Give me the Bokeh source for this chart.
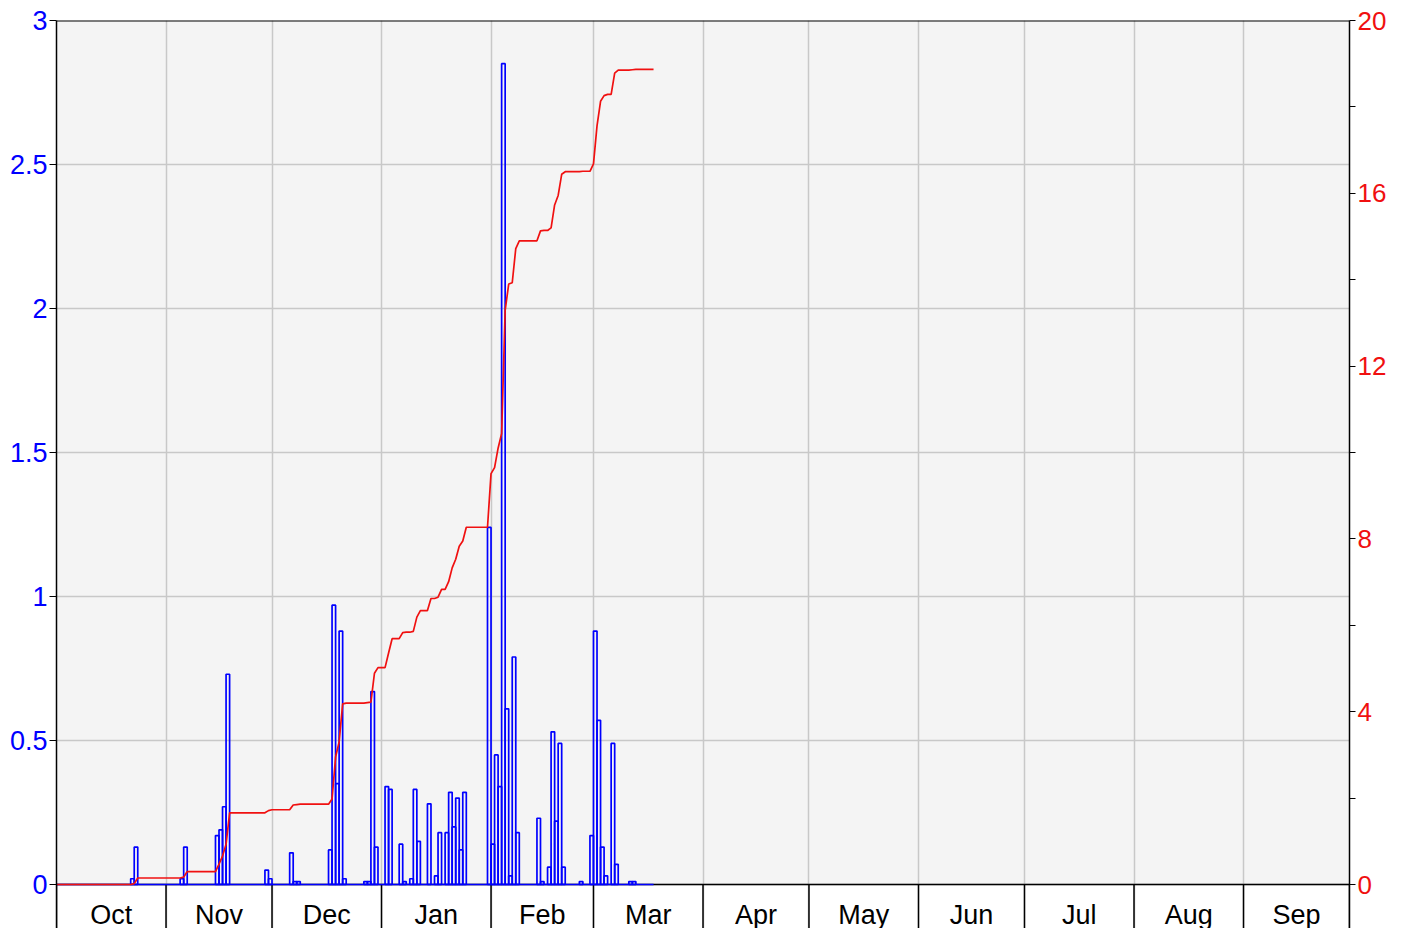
import numpy as np
import pandas as pd
from bokeh.plotting import figure
from bokeh.models import Range1d, LinearAxis, FixedTicker, Grid, Span, BoxAnnotation
from bokeh.core.properties import value
from bokeh.embed import file_html
from bokeh.resources import INLINE

# ---------------- data ----------------
months = ["Oct", "Nov", "Dec", "Jan", "Feb", "Mar",
          "Apr", "May", "Jun", "Jul", "Aug", "Sep"]
wy_start = "2023-10-01"
wy_end = "2024-09-30"
last_obs = "2024-03-17"

rain_dates = [
    "2023-10-22", "2023-10-23",
    "2023-11-05", "2023-11-06", "2023-11-15", "2023-11-16", "2023-11-17", "2023-11-18",
    "2023-11-29", "2023-11-30",
    "2023-12-06", "2023-12-07", "2023-12-08",
    "2023-12-17", "2023-12-18", "2023-12-19", "2023-12-20", "2023-12-21",
    "2023-12-27", "2023-12-28", "2023-12-29", "2023-12-30",
    "2024-01-02", "2024-01-03", "2024-01-06", "2024-01-07", "2024-01-09", "2024-01-10",
    "2024-01-11", "2024-01-14", "2024-01-16", "2024-01-17", "2024-01-19", "2024-01-20",
    "2024-01-21", "2024-01-22", "2024-01-23", "2024-01-24", "2024-01-31",
    "2024-02-01", "2024-02-02", "2024-02-03", "2024-02-04", "2024-02-05", "2024-02-06",
    "2024-02-07", "2024-02-08", "2024-02-14", "2024-02-15", "2024-02-17", "2024-02-18",
    "2024-02-19", "2024-02-20", "2024-02-21", "2024-02-26", "2024-02-29",
    "2024-03-01", "2024-03-02", "2024-03-03", "2024-03-04", "2024-03-06", "2024-03-07",
    "2024-03-11", "2024-03-12",
]
rain_in = [
    0.02, 0.13,
    0.02, 0.13, 0.17, 0.19, 0.27, 0.73,
    0.05, 0.02,
    0.11, 0.01, 0.01,
    0.12, 0.97, 0.35, 0.88, 0.02,
    0.01, 0.01, 0.67, 0.13,
    0.34, 0.33, 0.14, 0.01, 0.02, 0.33,
    0.15, 0.28, 0.03, 0.18, 0.18, 0.32,
    0.20, 0.30, 0.12, 0.32, 1.24,
    0.14, 0.45, 0.34, 2.85, 0.61, 0.03,
    0.79, 0.18, 0.23, 0.01, 0.06, 0.53,
    0.22, 0.49, 0.06, 0.01, 0.17,
    0.88, 0.57, 0.13, 0.03, 0.49, 0.07,
    0.01, 0.01,
]

left_ticks = [0, 0.5, 1, 1.5, 2, 2.5, 3]
left_labels = ["0", "0.5", "1", "1.5", "2", "2.5", "3"]
right_ticks = [0, 4, 8, 12, 16, 20]
right_minor = [2, 6, 10, 14, 18]
left_max = 3
right_max = 20

# ---------------- derived ----------------
start = pd.Timestamp(wy_start)
day_idx = np.array((pd.to_datetime(rain_dates) - start).days)
n_year = (pd.Timestamp(wy_end) - start).days + 1
n_obs = (pd.Timestamp(last_obs) - start).days + 1

daily = np.zeros(n_obs)
daily[day_idx] = rain_in
cum = np.cumsum(daily)

month_starts = pd.date_range(start, periods=13, freq="MS")
bounds = [int((m - start).days) for m in month_starts]
mids = [(a + b) / 2 for a, b in zip(bounds[:-1], bounds[1:])]

# ---------------- layout ----------------
FONT = "Liberation Sans"
BLUE = "#0000ff"
RED = "#f01010"
PLOT_PX = 864      # pixels of the 0..max area
BELOW_PX = 44      # white strip below zero holding the month names
LABEL_PX = 30      # centre of month names below zero

y_lo = -left_max * BELOW_PX / PLOT_PX
c_lo = -right_max * BELOW_PX / PLOT_PX

p = figure(width=1393, height=928,
           x_range=Range1d(0, n_year), y_range=Range1d(y_lo, left_max),
           x_axis_location=None,
           output_backend="svg", toolbar_location=None,
           min_border_left=56, min_border_right=44, min_border_top=20,
           min_border_bottom=0)
p.background_fill_color = "#f4f4f4"
p.border_fill_color = "white"
p.outline_line_color = None
for g in p.xgrid:
    g.visible = False

# white strip below zero
p.add_layout(BoxAnnotation(top=0, fill_color="white", fill_alpha=1.0,
                           line_color=None, level="image"))

# vertical month grid (only over the plot area)
xgrid = Grid(dimension=0, ticker=FixedTicker(ticks=bounds),
             grid_line_color="#c8c8c8", grid_line_width=1.5,
             bounds=(0, left_max))
p.add_layout(xgrid)

# left axis
yticker = FixedTicker(ticks=left_ticks, minor_ticks=[])
p.yaxis.ticker = yticker
p.yaxis.major_label_overrides = {t: s for t, s in zip(left_ticks, left_labels)}
p.yaxis.major_tick_out = 7
p.yaxis.major_tick_in = 0
p.yaxis.major_tick_line_color = "black"
p.yaxis.minor_tick_line_color = None
p.yaxis.major_label_standoff = 2
p.yaxis.major_label_text_font = FONT
p.yaxis.major_label_text_font_size = "27px"
p.yaxis.major_label_text_color = BLUE
p.yaxis.axis_line_color = "black"
p.yaxis.axis_line_width = 1.5

p.ygrid.ticker = yticker
p.ygrid.grid_line_color = "#c8c8c8"
p.ygrid.grid_line_width = 1.5

# right axis
p.extra_y_ranges = {"cum": Range1d(c_lo, right_max)}
ax2 = LinearAxis(y_range_name="cum",
                 ticker=FixedTicker(ticks=right_ticks, minor_ticks=right_minor))
ax2.major_tick_out = 6
ax2.major_tick_in = 0
ax2.minor_tick_out = 6
ax2.minor_tick_in = 0
ax2.major_tick_line_color = "black"
ax2.minor_tick_line_color = "black"
ax2.major_label_standoff = 2
ax2.major_label_text_font = FONT
ax2.major_label_text_font_size = "26px"
ax2.major_label_text_color = RED
ax2.axis_line_color = "black"
ax2.axis_line_width = 1.5
p.add_layout(ax2, "right")

# top border and zero line
p.add_layout(Span(location=left_max, dimension="width", line_color="black", line_width=2))
p.add_layout(Span(location=0, dimension="width", line_color="black", line_width=1.5,
                  level="underlay"))

# month boundary ticks and month names
p.segment(x0=bounds, y0=[y_lo] * len(bounds), x1=bounds, y1=[0] * len(bounds),
          line_color="black", line_width=1.5)
p.text(x=mids, y=[-left_max * LABEL_PX / PLOT_PX] * len(mids), text=months,
       text_align="center", text_baseline="middle",
       text_font=value(FONT), text_font_size="27px", text_color="black")

# baseline of the observed period
p.segment(x0=[0], y0=[0], x1=[n_obs], y1=[0], line_color=BLUE, line_width=1.7)

# daily bars
mask = daily > 0
days = np.arange(n_obs)
p.quad(left=days[mask], right=days[mask] + 1, bottom=0, top=daily[mask],
       fill_color=None, line_color=BLUE, line_width=1.7)

# cumulative line
cx = np.concatenate([[0], days + 1])
cy = np.concatenate([[0], cum])
p.line(cx, cy, y_range_name="cum", line_color=RED, line_width=1.7)

open("out.html", "w").write(file_html(p, INLINE))
